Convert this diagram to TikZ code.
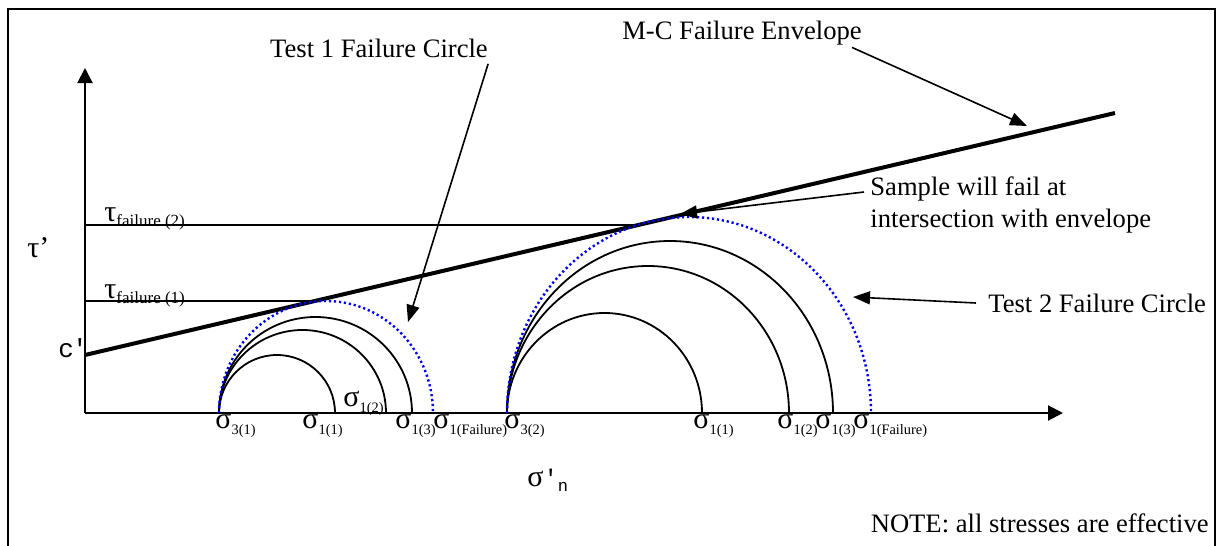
\documentclass[tikz,border=0pt]{standalone}
\usepackage{fontspec}
\setmainfont{Liberation Serif}
\setmonofont{Liberation Mono}
\usetikzlibrary{arrows.meta}

\newcommand{\lowsub}[1]{\raisebox{-0.4ex}{\fontsize{8.5}{10}\selectfont #1}}
\newcommand{\sigsub}[1]{\raisebox{-0.45ex}{\fontsize{7.2}{8}\selectfont #1}}

\tikzset{
  axis/.style={line width=1pt, -{Triangle[length=7.5pt,width=7.5pt]}},
  envelope/.style={line width=2pt},
  mohr/.style={line width=0.9pt},
  failcirc/.style={line width=1.2pt, blue, dash pattern=on 1.1pt off 1.4pt},
  pointer/.style={line width=0.8pt, -{Triangle[length=8.5pt,width=6.5pt]}},
  lbl/.style={font=\fontsize{13.3}{16}\selectfont, inner sep=0pt},
  sig/.style={font=\fontsize{15}{17}\selectfont, inner sep=0pt, anchor=base west},
}

\begin{document}
\begin{tikzpicture}[x=0.5pt, y=-0.5pt]
  \useasboundingbox (0,0) rectangle (1221,546);

  % frame, open at the bottom
  \draw[line width=1pt] (8,546) -- (8,9) -- (1215,9) -- (1215,546);

  % axes
  \coordinate (origin) at (85,413);
  \draw[axis] (origin) -- (85,68);
  \draw[axis] (origin) -- (1063,413);

  % failure envelope
  \coordinate (envA) at (85,355);
  \coordinate (envB) at (1115,113);
  \draw[envelope] (envA) -- (envB);

  % failure shear stresses
  \draw[line width=0.9pt] (85,225) -- (638,225);
  \draw[line width=0.9pt] (85,301) -- (315,301);

  % test 1 circles
  \coordinate (s31) at (219,413);
  \foreach \rx/\ry in {58/58, 83.5/83, 96.5/96}
    \draw[mohr] (s31) arc[start angle=180, end angle=360, x radius=\rx, y radius=\ry];
  \draw[failcirc] (s31) arc[start angle=180, end angle=360, x radius=107, y radius=112];

  % test 2 circles
  \coordinate (s32) at (507,413);
  \foreach \rx/\ry in {97.5/100, 141/147, 163/172}
    \draw[mohr] (s32) arc[start angle=180, end angle=360, x radius=\rx, y radius=\ry];
  \draw[failcirc] (s32) arc[start angle=180, end angle=360, x radius=182, y radius=196];

  % stress labels on the axis
  \node[sig] (t1s3) at (215,428) {σ\sigsub{3(1)}};
  \node[sig] (t1s1) at (302,428) {σ\sigsub{1(1)}};
  \node[sig] (t1s2) at (343,406) {σ\sigsub{1(2)}};
  \node[sig] (t1s13) at (395,428) {σ\sigsub{1(3)}};
  \node[sig] (t1sf) at (433,428) {σ\sigsub{1(Failure)}};
  \node[sig] (t2s3) at (504,428) {σ\sigsub{3(2)}};
  \node[sig] (t2s1) at (693,428) {σ\sigsub{1(1)}};
  \node[sig] (t2s2) at (777,428) {σ\sigsub{1(2)}};
  \node[sig] (t2s13) at (815,428) {σ\sigsub{1(3)}};
  \node[sig] (t2sf) at (853,428) {σ\sigsub{1(Failure)}};

  % axis labels
  \node[sig] (tauf2) at (104,221) {τ\lowsub{failure (2)}};
  \node[sig] (tauf1) at (104,298) {τ\lowsub{failure (1)}};
  \node[sig] (tauax) at (27,257) {τ’};
  \node[sig, font=\fontsize{13}{15}\ttfamily] (cprime) at (58,357) {c\kern-1pt'};
  \node[sig] (sigax) at (527,486) {σ{\ttfamily\fontsize{12}{14}\selectfont '\lowsub{n}}};

  % notes and pointers
  \node[lbl] (lblEnv) at (742,33) {M-C Failure Envelope};
  \coordinate (envTip) at (1027,126);
  \draw[pointer] ([xshift=-5pt,yshift=-1pt]lblEnv.south east) -- (envTip);

  \node[lbl] (lblT1) at (379,48) {Test 1 Failure Circle};
  \coordinate (t1Tip) at (408,322);
  \draw[pointer] ([yshift=-3pt]lblT1.south east) -- (t1Tip);

  \node[lbl, anchor=north west, align=left] (lblSample) at (870,176)
    {Sample will fail at\\intersection with envelope};
  \coordinate (sampleTip) at (680,214);
  \draw[pointer] ([xshift=-3pt,yshift=-8pt]lblSample.north west) -- (sampleTip);

  \node[lbl, anchor=west] (lblT2) at (988,303) {Test 2 Failure Circle};
  \coordinate (t2Tip) at (853,297);
  \draw[pointer] ([xshift=-6pt]lblT2.west) -- (t2Tip);

  \node[lbl, anchor=east] (note) at (1209,523) {NOTE: all stresses are effective};

\end{tikzpicture}
\end{document}
